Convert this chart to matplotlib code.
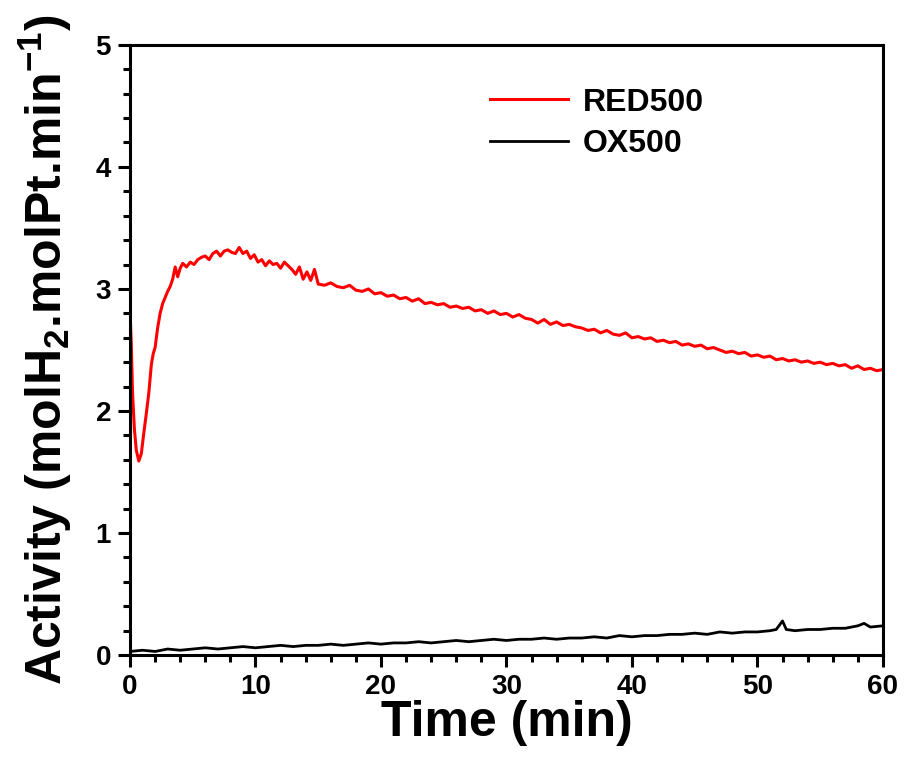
import matplotlib
matplotlib.use("Agg")
import matplotlib.pyplot as plt

# RED500 activity vs time
red_t = [0, 0.1, 0.2, 0.35, 0.5, 0.7, 0.9, 1.1, 1.3, 1.5, 1.7, 1.85, 2.0, 2.2,
         2.4, 2.6, 2.8, 3.0, 3.2, 3.4, 3.6, 3.8, 4.0, 4.2, 4.5, 4.8, 5.1, 5.4,
         5.7, 6.0, 6.3, 6.6, 6.9, 7.2, 7.5, 7.8, 8.1, 8.4, 8.7, 9.0, 9.3, 9.6,
         9.9, 10.2, 10.5, 10.8, 11.1, 11.4, 11.7, 12.0, 12.3, 12.6, 12.9, 13.2,
         13.5, 13.8, 14.1, 14.4, 14.7, 15.0, 15.5, 16.0, 16.5, 17.0, 17.5, 18.0,
         18.5, 19.0, 19.5, 20.0, 20.5, 21.0, 21.5, 22.0, 22.5, 23.0, 23.5, 24.0,
         24.5, 25.0, 25.5, 26.0, 26.5, 27.0, 27.5, 28.0, 28.5, 29.0, 29.5, 30.0,
         30.5, 31.0, 31.5, 32.0, 32.5, 33.0, 33.5, 34.0, 34.5, 35.0, 35.5, 36.0,
         36.5, 37.0, 37.5, 38.0, 38.5, 39.0, 39.5, 40.0, 40.5, 41.0, 41.5, 42.0,
         42.5, 43.0, 43.5, 44.0, 44.5, 45.0, 45.5, 46.0, 46.5, 47.0, 47.5, 48.0,
         48.5, 49.0, 49.5, 50.0, 50.5, 51.0, 51.5, 52.0, 52.5, 53.0, 53.5, 54.0,
         54.5, 55.0, 55.5, 56.0, 56.5, 57.0, 57.5, 58.0, 58.5, 59.0, 59.5, 60.0]
red_y = [2.83, 2.55, 2.15, 1.85, 1.68, 1.59, 1.65, 1.82, 1.98, 2.15, 2.38, 2.47,
         2.52, 2.68, 2.80, 2.88, 2.93, 2.98, 3.02, 3.08, 3.18, 3.10, 3.17, 3.21,
         3.18, 3.22, 3.20, 3.24, 3.26, 3.27, 3.24, 3.29, 3.31, 3.27, 3.31, 3.32,
         3.30, 3.29, 3.34, 3.29, 3.31, 3.25, 3.28, 3.22, 3.24, 3.19, 3.23, 3.20,
         3.21, 3.17, 3.22, 3.19, 3.16, 3.12, 3.18, 3.08, 3.14, 3.07, 3.16, 3.04,
         3.03, 3.05, 3.02, 3.01, 3.03, 2.99, 2.98, 3.00, 2.96, 2.97, 2.94, 2.95,
         2.92, 2.93, 2.90, 2.92, 2.88, 2.89, 2.87, 2.88, 2.85, 2.86, 2.84, 2.85,
         2.82, 2.83, 2.80, 2.82, 2.79, 2.80, 2.77, 2.79, 2.76, 2.75, 2.72, 2.75,
         2.71, 2.73, 2.70, 2.71, 2.69, 2.68, 2.66, 2.67, 2.64, 2.66, 2.63, 2.62,
         2.64, 2.60, 2.61, 2.59, 2.60, 2.57, 2.58, 2.56, 2.57, 2.54, 2.55, 2.53,
         2.54, 2.51, 2.52, 2.50, 2.48, 2.49, 2.47, 2.48, 2.45, 2.46, 2.44, 2.45,
         2.42, 2.43, 2.41, 2.42, 2.40, 2.41, 2.39, 2.40, 2.38, 2.39, 2.37, 2.38,
         2.35, 2.37, 2.34, 2.35, 2.33, 2.34]

# OX500 activity vs time
ox_t = [0, 1, 2, 3, 4, 5, 6, 7, 8, 9, 10, 11, 12, 13, 14, 15, 16, 17, 18, 19,
        20, 21, 22, 23, 24, 25, 26, 27, 28, 29, 30, 31, 32, 33, 34, 35, 36, 37,
        38, 39, 40, 41, 42, 43, 44, 45, 46, 47, 48, 49, 50, 51, 51.5, 52, 52.3,
        53, 54, 55, 56, 57, 58, 58.5, 59, 60]
ox_y = [0.03, 0.04, 0.03, 0.05, 0.04, 0.05, 0.06, 0.05, 0.06, 0.07, 0.06, 0.07,
        0.08, 0.07, 0.08, 0.08, 0.09, 0.08, 0.09, 0.10, 0.09, 0.10, 0.10, 0.11,
        0.10, 0.11, 0.12, 0.11, 0.12, 0.13, 0.12, 0.13, 0.13, 0.14, 0.13, 0.14,
        0.14, 0.15, 0.14, 0.16, 0.15, 0.16, 0.16, 0.17, 0.17, 0.18, 0.17, 0.19,
        0.18, 0.19, 0.19, 0.20, 0.21, 0.28, 0.21, 0.20, 0.21, 0.21, 0.22, 0.22,
        0.24, 0.26, 0.23, 0.24]

plt.rcParams['font.family'] = ['Liberation Sans', 'DejaVu Sans']
plt.rcParams['font.weight'] = 'bold'
plt.rcParams['mathtext.fontset'] = 'custom'
plt.rcParams['mathtext.rm'] = 'Liberation Sans:bold'
plt.rcParams['mathtext.bf'] = 'Liberation Sans:bold'
plt.rcParams['mathtext.default'] = 'bf'

fig = plt.figure(figsize=(9.06, 7.6), dpi=100)
ax = fig.add_axes([0.1435, 0.138, 0.831, 0.803])

ax.plot(red_t, red_y, color='red', lw=2.2, label='RED500')
ax.plot(ox_t, ox_y, color='black', lw=2.0, label='OX500')

ax.set_xlim(0, 60)
ax.set_ylim(0, 5)
ax.set_xticks([0, 10, 20, 30, 40, 50, 60])
ax.set_xticks(range(0, 61, 2), minor=True)
ax.set_yticks([0, 1, 2, 3, 4, 5])
ax.set_yticks([i * 0.2 for i in range(26)], minor=True)
ax.tick_params(which='both', direction='out', width=2.2, top=False, right=False,
               labelsize=20, pad=5)
ax.tick_params(which='major', length=8.6)
ax.tick_params(which='minor', length=5)
for sp in ax.spines.values():
    sp.set_linewidth(2.2)

ax.set_xlabel('Time (min)', fontsize=36, fontweight='bold', labelpad=0)
ax.set_ylabel(r'Activity (molH$_2$.molPt.min$^{-1}$)', fontsize=36,
              fontweight='bold')
ax.yaxis.set_label_coords(-0.074, 0.5)

ax.legend(loc='upper left', bbox_to_anchor=(0.44, 0.977), frameon=False,
          fontsize=23, handlelength=2.45, handletextpad=0.45, labelspacing=0.36)

fig.savefig('out.png', dpi=100)
